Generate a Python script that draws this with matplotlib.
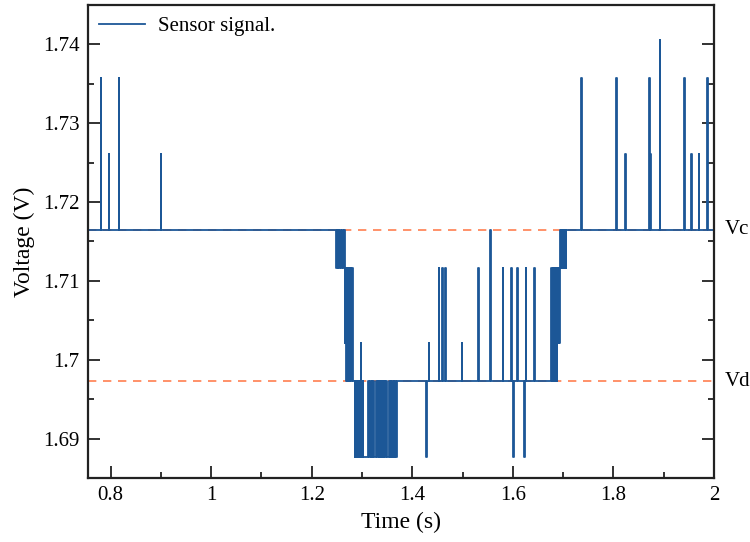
import matplotlib
matplotlib.use("Agg")
import matplotlib.pyplot as plt
import matplotlib.transforms as mtransforms
from matplotlib.ticker import MultipleLocator, FuncFormatter

plt.rcParams['font.family'] = ['Liberation Serif', 'DejaVu Serif']

# ADC output levels (V)
LO = 1.6877
VD = 1.6973
A1 = 1.7021
A3 = 1.7117
VC = 1.7165
B6 = 1.7261
B8 = 1.7357
B9 = 1.7405

SAMPLE_DT = 0.001  # one sample period (s)

# Plateau at Vc before the drop: start, level and single-sample spikes
left_start = 0.755
left_spike_t = [0.7807, 0.7966, 0.8165, 0.8994]
left_spike_v = [B8, B6, B8, B6]

# Falling transition Vc -> Vd (sample-by-sample record)
fall_t = [1.2478, 1.2496, 1.2514, 1.2532, 1.2550, 1.2568, 1.2586, 1.2604, 1.2622, 1.2640,
          1.2658, 1.2668, 1.2680, 1.2692, 1.2704, 1.2716, 1.2728, 1.2740, 1.2752, 1.2764,
          1.2776, 1.2800, 1.2814,
          1.2855, 1.2865, 1.2875, 1.2885, 1.2895, 1.2905, 1.2915, 1.2925, 1.2935, 1.2945,
          1.2955, 1.2965, 1.2970, 1.2980, 1.2990, 1.3000, 1.3010, 1.3022,
          1.3121, 1.3138, 1.3155, 1.3172, 1.3189, 1.3205, 1.3221, 1.3245, 1.3269, 1.3295,
          1.3320, 1.3332, 1.3344, 1.3356, 1.3368, 1.3380, 1.3394, 1.3407, 1.3420, 1.3430,
          1.3440, 1.3457, 1.3474, 1.3506, 1.3539, 1.3556, 1.3573, 1.3586, 1.3599, 1.3613,
          1.3627, 1.3640, 1.3652, 1.3669, 1.3686]
fall_v = [A3, VC, A3, VC, A3, VC, A3, VC, A3, VC,
          A1, A3, VD, A3, VD, A3, VD, A3, VD, A3,
          VD, A3, VD,
          LO, VD, LO, VD, LO, VD, LO, VD, LO, VD,
          LO, VD, A1, LO, VD, LO, VD, LO,
          VD, LO, VD, LO, VD, LO, VD, LO, VD, LO,
          VD, LO, VD, LO, VD, LO, VD, LO, VD, LO,
          VD, LO, VD, LO, VD, LO, VD, LO, VD, LO,
          VD, LO, VD, LO, VD]

# Plateau at Vd: single-sample spikes
mid_spike_t = [1.4282, 1.4328, 1.4527, 1.4600, 1.4652, 1.4984, 1.5316, 1.5555,
               1.5799, 1.5964, 1.6012, 1.6092, 1.6223, 1.6256, 1.6429]
mid_spike_v = [LO, A1, A3, A3, A3, A1, A3, VC,
               A3, A3, LO, A3, LO, A3, A3]

# Rising transition Vd -> Vc
rise_t = [1.6767, 1.6779, 1.6791, 1.6803, 1.6815, 1.6827, 1.6839, 1.6851, 1.6863, 1.6875,
          1.6887, 1.6899, 1.6911, 1.6923,
          1.6940, 1.6952, 1.6964, 1.6976, 1.6988, 1.7000, 1.7012, 1.7024, 1.7036, 1.7048]
rise_v = [A3, VD, A3, VD, A3, VD, A3, VD, A3, VD,
          A3, A1, A3, A1,
          VC, A3, VC, A3, VC, A3, VC, A3, VC, A3]

# Plateau at Vc after the rise
right_start = 1.7060
right_end = 2.0
right_spike_t = [1.7364, 1.8060, 1.8231, 1.8716, 1.8730, 1.8746, 1.8920,
                 1.9404, 1.9543, 1.9696, 1.9861]
right_spike_v = [B8, B8, B6, B8, B6, B6, B9,
                 B8, B6, B6, B8]


def plateau(start, level, spike_t, spike_v):
    t, v = [start], [level]
    for st, sv in zip(spike_t, spike_v):
        t += [st, st + SAMPLE_DT]
        v += [sv, level]
    return t, v


t_all, v_all = [], []
for seg_t, seg_v in (plateau(left_start, VC, left_spike_t, left_spike_v),
                     (fall_t, fall_v),
                     plateau(fall_t[-1] + SAMPLE_DT, VD, mid_spike_t, mid_spike_v),
                     (rise_t, rise_v),
                     plateau(right_start, VC, right_spike_t, right_spike_v)):
    t_all += list(seg_t)
    v_all += list(seg_v)
t_all.append(right_end)
v_all.append(VC)

fig = plt.figure(figsize=(7.5, 5.42), dpi=100)
ax = fig.add_axes([0.1173, 0.1181, 0.8347, 0.8727])

ax.axhline(VC, color='#ff7f50', lw=1.2, ls=(0, (5, 4)), zorder=1)
ax.axhline(VD, color='#ff7f50', lw=1.2, ls=(0, (5, 4)), zorder=1)
ax.plot(t_all, v_all, drawstyle='steps-post', color='#1c5797', lw=1.3,
        label='Sensor signal.', zorder=2)

ax.set_xlim(0.755, 2.0)
ax.set_ylim(1.685, 1.745)
ax.xaxis.set_major_locator(MultipleLocator(0.2))
ax.xaxis.set_minor_locator(MultipleLocator(0.1))
ax.yaxis.set_major_locator(MultipleLocator(0.01))
ax.yaxis.set_minor_locator(MultipleLocator(0.005))
ax.xaxis.set_major_formatter(FuncFormatter(lambda x, pos: f"{round(x, 3):g}"))
ax.yaxis.set_major_formatter(FuncFormatter(lambda x, pos: f"{round(x, 3):g}"))

ax.tick_params(which='both', direction='in', top=False, right=True,
               width=1.3, labelsize=15, color='#222222')
ax.tick_params(which='major', length=8.5, pad=6)
ax.tick_params(which='minor', length=4.5)
for sp in ax.spines.values():
    sp.set_linewidth(1.6)
    sp.set_color('#222222')

ax.set_xlabel('Time (s)', fontsize=17, labelpad=5)
ax.set_ylabel('Voltage (V)', fontsize=17, labelpad=6)

trans = mtransforms.blended_transform_factory(ax.transAxes, ax.transData)
ax.text(1.017, VC, 'Vc', transform=trans, ha='left', va='center', fontsize=15)
ax.text(1.017, VD, 'Vd', transform=trans, ha='left', va='center', fontsize=15)

ax.legend(loc='upper left', bbox_to_anchor=(0, 1), frameon=False, fontsize=15,
          handlelength=2.2, handletextpad=0.6, borderaxespad=0.25, borderpad=0.3)

fig.savefig('out.png', dpi=100)
